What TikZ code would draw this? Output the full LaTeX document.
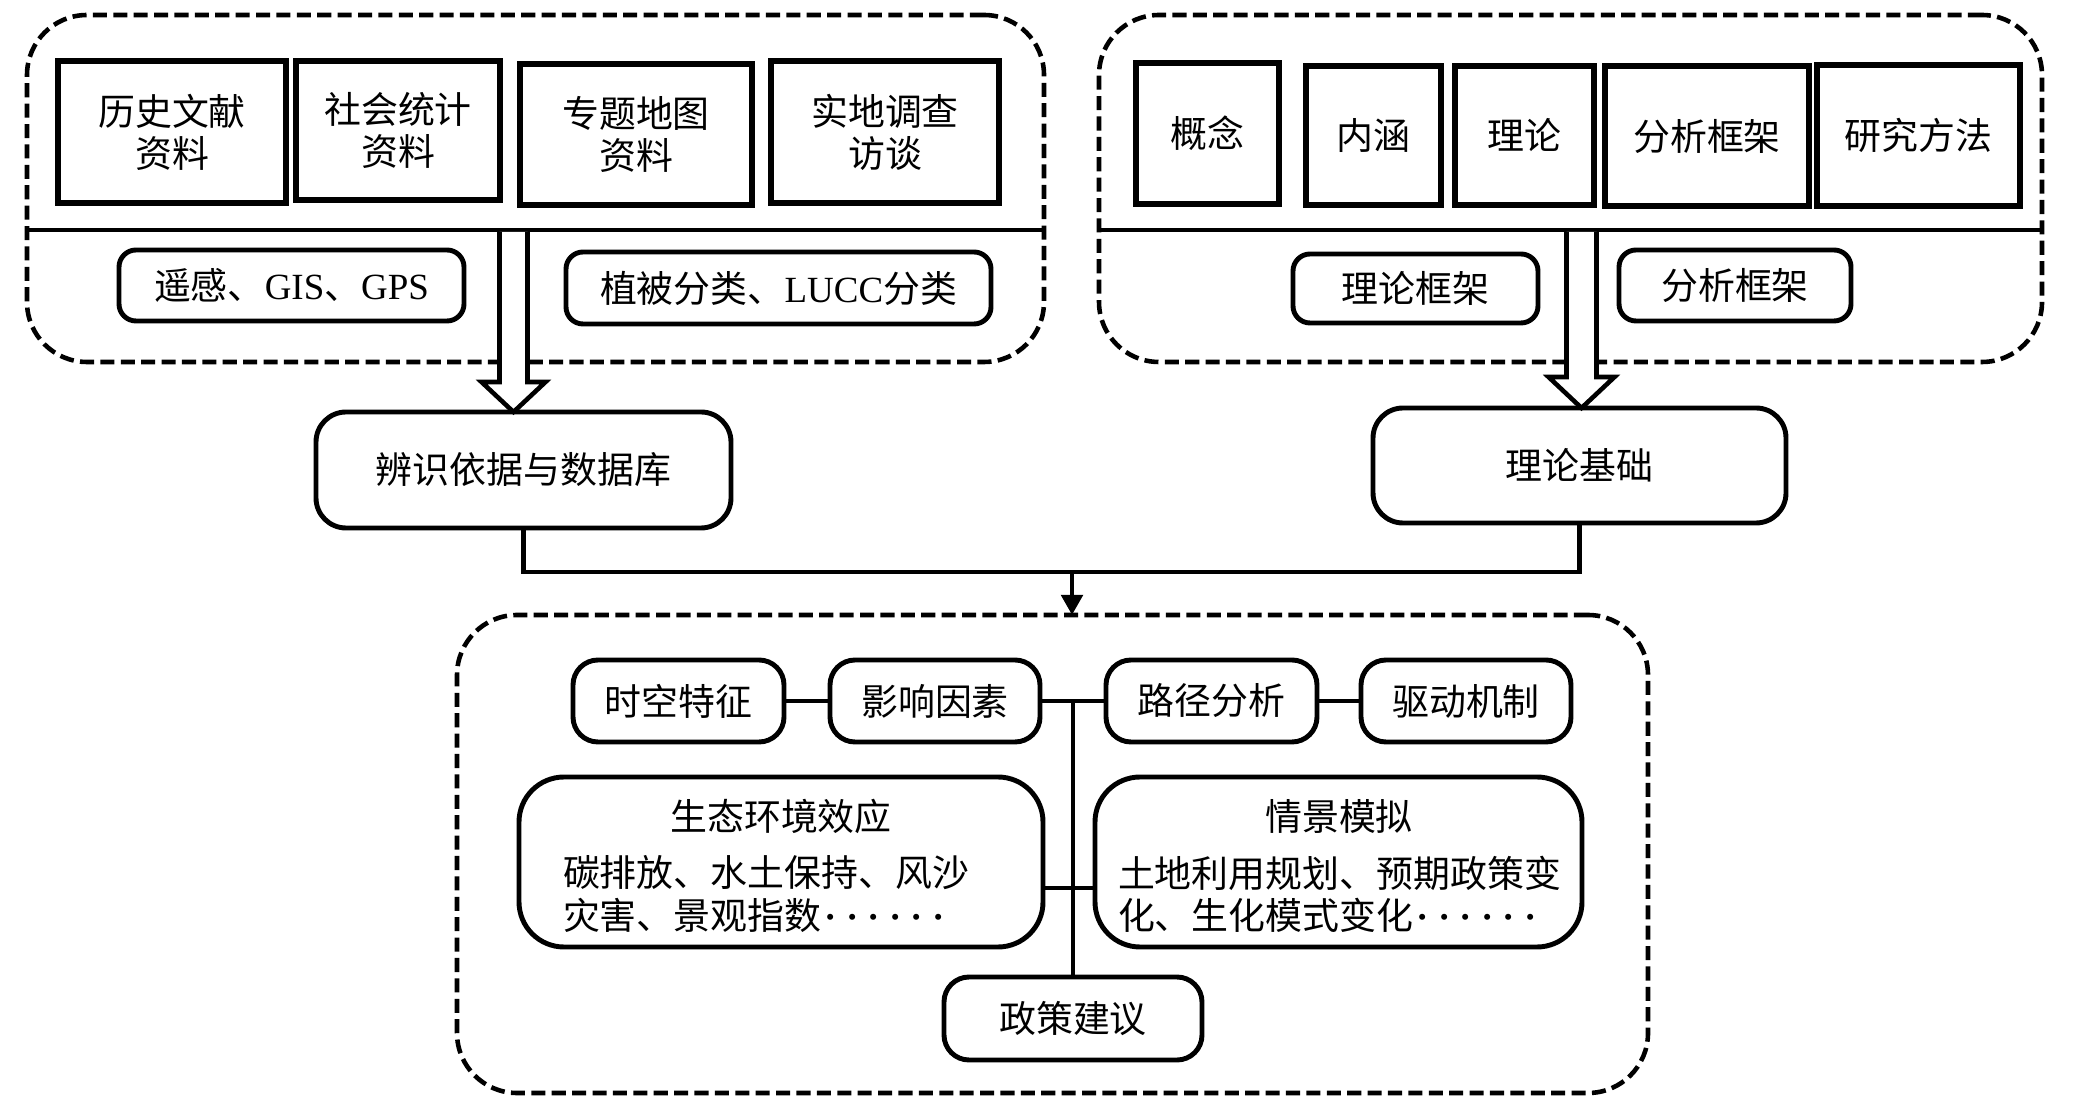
\documentclass[tikz,border=0pt]{standalone}
\usepackage{fontspec}
\setmainfont{Liberation Serif}
\newfontfamily\cjk{Noto Sans CJK SC}
\usetikzlibrary{arrows.meta,calc}
\newcommand\bx[7]{\node[#2, minimum width={(#5-#3)*0.01cm}, minimum height={(#6-#4)*0.01cm}] (#1) at ({(#3+#5)/2},{(#4+#6)/2}) {#7};}
\newcommand\sixdots{{\rmfamily\bfseries\hspace{1pt}·\hspace{2.6pt}·\hspace{2.6pt}·\hspace{2.6pt}·\hspace{2.6pt}·\hspace{2.6pt}·}}
\begin{document}
\begin{tikzpicture}[x=0.01cm,y=-0.01cm,
 every node/.style={font=\cjk\fontsize{10.5}{12}\selectfont, inner sep=0pt, outer sep=0pt},
 grp/.style={draw, line width=1.3pt, dash pattern=on 4pt off 1.8pt, rounded corners=0.6cm},
 sq/.style={draw, line width=1.5pt, align=center},
 rbox/.style={draw, line width=1.4pt, rounded corners=0.17cm, align=center},
 mbox/.style={draw, line width=1.4pt, rounded corners=0.3cm, align=center},
 ibox/.style={draw, line width=1.4pt, rounded corners=0.25cm, align=center},
 bbox/.style={draw, line width=1.4pt, rounded corners=0.45cm},
 ln/.style={line width=1.4pt},
 hollow/.style={draw, fill=white, line width=1.3pt, line join=miter},
]
\useasboundingbox (0,0) rectangle (2079,1104);
% containers
\bx{gA}{grp}{27}{15}{1044}{362}{}
\bx{gB}{grp}{1099}{15}{2042}{362}{}
\bx{gC}{grp}{457}{615}{1648}{1093}{}
\draw[ln] (27,230) -- (1044,230);
\draw[ln] (1099,230) -- (2042,230);
% group A
\bx{a1}{sq}{58}{61}{286}{203}{历史文献\\资料}
\bx{a2}{sq}{296}{61}{500}{200}{社会统计\\资料}
\bx{a3}{sq}{520}{64}{752}{205}{专题地图\\资料}
\bx{a4}{sq}{771}{61}{999}{203}{实地调查\\访谈}
\bx{a5}{rbox}{119}{250}{464}{321}{遥感、{\rmfamily GIS}、{\rmfamily GPS}}
\bx{a6}{rbox}{566}{252}{991}{324}{植被分类、{\rmfamily LUCC}分类}
% group B
\bx{b1}{sq}{1136}{63}{1279}{204}{概念}
\bx{b2}{sq}{1306}{66}{1441}{205}{内涵}
\bx{b3}{sq}{1455}{66}{1594}{205}{理论}
\bx{b4}{sq}{1605}{66}{1809}{206}{分析框架}
\bx{b5}{sq}{1817}{65}{2020}{206}{研究方法}
\bx{b6}{rbox}{1293}{254}{1538}{323}{理论框架}
\bx{b7}{rbox}{1619}{250}{1851}{321}{分析框架}
% middle
\bx{ida}{mbox}{316}{412}{731}{528}{辨识依据与数据库}
\bx{tb}{mbox}{1373}{408}{1786}{523}{理论基础}
% hollow arrows
\draw[hollow] ($(ida.north)+(-24,-180)$) -- ($(ida.north)+(-24,-30)$) -- ($(ida.north)+(-42,-30)$) -- ($(ida.north)+(-10,0)$) -- ($(ida.north)+(22,-30)$) -- ($(ida.north)+(4,-30)$) -- ($(ida.north)+(4,-180)$);
\draw[hollow] ($(tb.north)+(-13,-176)$) -- ($(tb.north)+(-13,-31)$) -- ($(tb.north)+(-31,-31)$) -- ($(tb.north)+(2,0)$) -- ($(tb.north)+(35,-31)$) -- ($(tb.north)+(17,-31)$) -- ($(tb.north)+(17,-176)$);
% connector to bottom group
\coordinate (jn) at (1072,572);
\draw[ln] (ida.south) |- (jn) -| (tb.south);
\draw[ln, -{Triangle[length=0.2cm,width=0.21cm]}] (jn) -- (jn |- gC.north);
% group C
\bx{c1}{ibox}{573}{660}{784}{742}{时空特征}
\bx{c2}{ibox}{830}{660}{1040}{742}{影响因素}
\bx{c3}{ibox}{1106}{660}{1317}{742}{路径分析}
\bx{c4}{ibox}{1361}{660}{1571}{742}{驱动机制}
\bx{eco}{bbox}{519}{777}{1043}{947}{}
\bx{sce}{bbox}{1095}{777}{1582}{947}{}
\bx{pol}{ibox}{944}{977}{1202}{1060}{政策建议}
\node (ecoT) at (781,816) {生态环境效应};
\node[anchor=west, align=left] (ecoB) at (563,894) {碳排放、水土保持、风沙\\灾害、景观指数\sixdots};
\node (sceT) at (1339,816) {情景模拟};
\node[anchor=west, align=left] (sceB) at (1118,894) {土地利用规划、预期政策变\\化、生化模式变化\sixdots};
\draw[ln] (c1.east) -- (c2.west);
\draw[ln] (c2.east) -- (c3.west);
\draw[ln] (c3.east) -- (c4.west);
\coordinate (hub) at ($(c2.east)!0.5!(c3.west)$);
\draw[ln] (hub) -- (hub |- pol.north);
\coordinate (hl) at (0,888);
\draw[ln] (eco.east |- hl) -- (sce.west |- hl);
\end{tikzpicture}
\end{document}
